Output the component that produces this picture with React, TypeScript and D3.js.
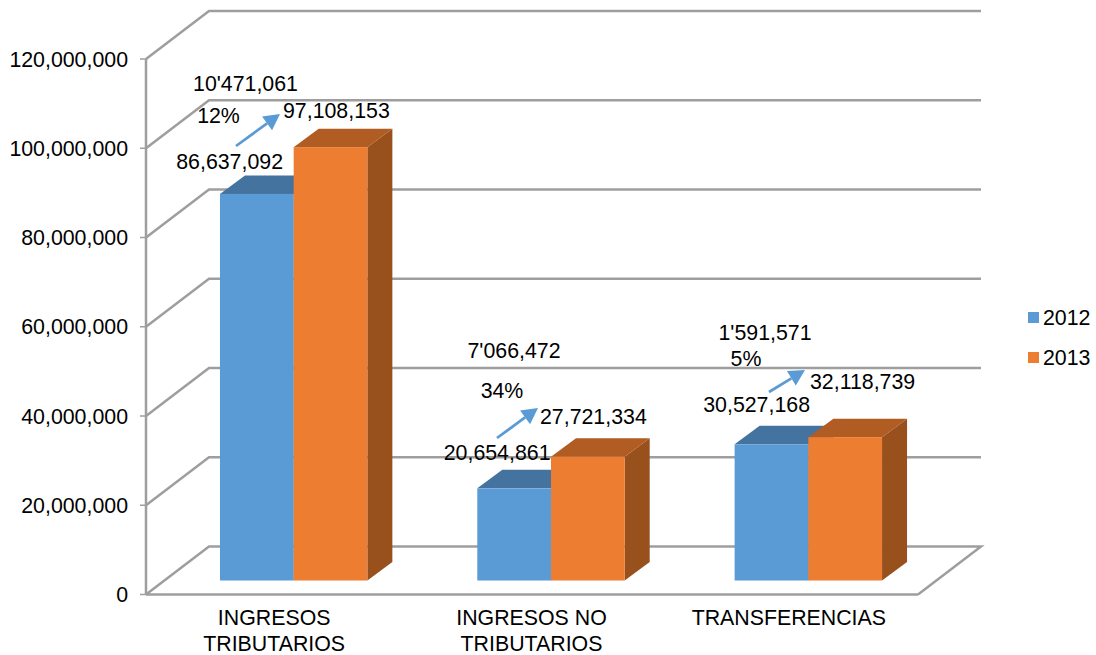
import React from "react";
import * as d3 from "d3";

const categories = ["INGRESOS TRIBUTARIOS", "INGRESOS NO TRIBUTARIOS", "TRANSFERENCIAS"];
const categoryLines = [["INGRESOS", "TRIBUTARIOS"], ["INGRESOS NO", "TRIBUTARIOS"], ["TRANSFERENCIAS"]];
const series2012 = [86637092, 20654861, 30527168];
const series2013 = [97108153, 27721334, 32118739];
const years = ["2012", "2013"];
const yTicks = [0, 20000000, 40000000, 60000000, 80000000, 100000000, 120000000];
const differences = ["10'471,061", "7'066,472", "1'591,571"];
const percents = ["12%", "34%", "5%"];

// layout
const W = 1096, H = 655;
const FONT = "'Liberation Sans', Arial, sans-serif";
const GRID = "#9e9e9e";
const FILL = [
  { front: "#5b9bd5", top: "#44739f", side: "#44739f" },
  { front: "#ed7d31", top: "#b15c22", side: "#98501d" },
];
const depth = { dx: 63, dy: -48 };
const inset = { dx: 19, dy: -14 };
const barDepth = { dx: 25, dy: -18.5 };
const frontLeft = 146, frontRight = 918;

const notes = [
  { diff: [245.5, 91], pct: [218.5, 123], lo: [283, 169], hi: [283, 118], arrow: [236, 146, 280, 114] },
  { diff: [514, 358], pct: [502, 398], lo: [550.5, 460], hi: [540, 424], arrow: [497, 438, 538, 408] },
  { diff: [765, 340], pct: [746, 366], lo: [810, 412], hi: [810, 389], arrow: [769, 392, 805, 370] },
];

const fmt = d3.format(",");

function Arrow({ a }: { a: number[] }) {
  const [x1, y1, x2, y2] = a;
  const ang = Math.atan2(y2 - y1, x2 - x1);
  const len = 16, half = 8.5;
  const bx = x2 - len * Math.cos(ang), by = y2 - len * Math.sin(ang);
  const nx = -Math.sin(ang), ny = Math.cos(ang);
  const head = [[x2, y2], [bx + nx * half, by + ny * half], [bx - nx * half, by - ny * half]];
  return (
    <g>
      <line x1={x1} y1={y1} x2={bx} y2={by} stroke="#5b9bd5" strokeWidth={2.75} />
      <polygon points={head.map((p) => p.join(",")).join(" ")} fill="#5b9bd5" />
    </g>
  );
}

export default function App() {
  const y = d3.scaleLinear().domain([0, 120000000]).range([594.5, 59]);
  const x = d3.scaleBand<string>().domain(categories).range([frontLeft, frontRight]);
  const poly = (pts: number[][]) => (d3.line()(pts as [number, number][]) as string) + "Z";
  const barW = 73.7;

  const drawBar = (i: number, v: number, s: number) => {
    const c = x(categories[i])! + x.bandwidth() / 2 + inset.dx;
    const x0 = c + (s - 1) * barW;
    const x1 = x0 + barW;
    const y0 = y(0) + inset.dy;
    const yt = y(v) + inset.dy;
    const { dx, dy } = barDepth;
    return (
      <g key={`${i}-${s}`}>
        <path d={poly([[x1, y0], [x1 + dx, y0 + dy], [x1 + dx, yt + dy], [x1, yt]])} fill={FILL[s].side} />
        <path d={poly([[x0, yt], [x0 + dx, yt + dy], [x1 + dx, yt + dy], [x1, yt]])} fill={FILL[s].top} />
        <rect x={x0} y={yt} width={barW} height={y0 - yt} fill={FILL[s].front} />
      </g>
    );
  };

  return (
    <svg width={W} height={H} style={{ position: "absolute", left: 0, top: 0, background: "#fff" }}
      fontFamily={FONT} fontSize={21.33} fill="#000">
      {yTicks.map((t) => {
        const yy = y(t);
        const pts: [number, number][] = t === 0
          ? [[frontLeft, yy], [frontLeft + depth.dx, yy + depth.dy], [frontRight + depth.dx, yy + depth.dy], [frontRight, yy]]
          : [[frontLeft, yy], [frontLeft + depth.dx, yy + depth.dy], [frontRight + depth.dx, yy + depth.dy]];
        return <path key={t} d={d3.line()(pts) as string} fill="none" stroke={GRID} strokeWidth={2.5} />;
      })}
      <line x1={frontLeft} y1={y(120000000)} x2={frontLeft} y2={y(0)} stroke={GRID} strokeWidth={2.5} />
      <line x1={frontLeft} y1={y(0)} x2={frontRight} y2={y(0)} stroke={GRID} strokeWidth={2.5} />
      {yTicks.map((t) => (
        <g key={t}>
          <line x1={frontLeft - 6} x2={frontLeft} y1={y(t)} y2={y(t)} stroke={GRID} strokeWidth={1.5} />
          <text x={128} y={y(t) + 7.5} textAnchor="end">{fmt(t)}</text>
        </g>
      ))}
      {categories.map((_, i) => (
        <g key={i}>
          {drawBar(i, series2012[i], 0)}
          {drawBar(i, series2013[i], 1)}
        </g>
      ))}
      {categories.map((c, i) => (
        <text key={c} textAnchor="middle">
          {categoryLines[i].map((l, j) => (
            <tspan key={l} x={x(c)! + x.bandwidth() / 2 - 0.5} y={625 + j * 26}>{l}</tspan>
          ))}
        </text>
      ))}
      {notes.map((n, i) => (
        <g key={i}>
          <Arrow a={n.arrow} />
          <text x={n.diff[0]} y={n.diff[1]} textAnchor="middle">{differences[i]}</text>
          <text x={n.pct[0]} y={n.pct[1]} textAnchor="middle">{percents[i]}</text>
          <text x={n.lo[0]} y={n.lo[1]} textAnchor="end">{fmt(series2012[i])}</text>
          <text x={n.hi[0]} y={n.hi[1]}>{fmt(series2013[i])}</text>
        </g>
      ))}
      {years.map((yr, i) => (
        <g key={yr}>
          <rect x={1028} y={312 + i * 40} width={11} height={11} fill={FILL[i].front} />
          <text x={1043} y={325 + i * 39.5}>{yr}</text>
        </g>
      ))}
    </svg>
  );
}
